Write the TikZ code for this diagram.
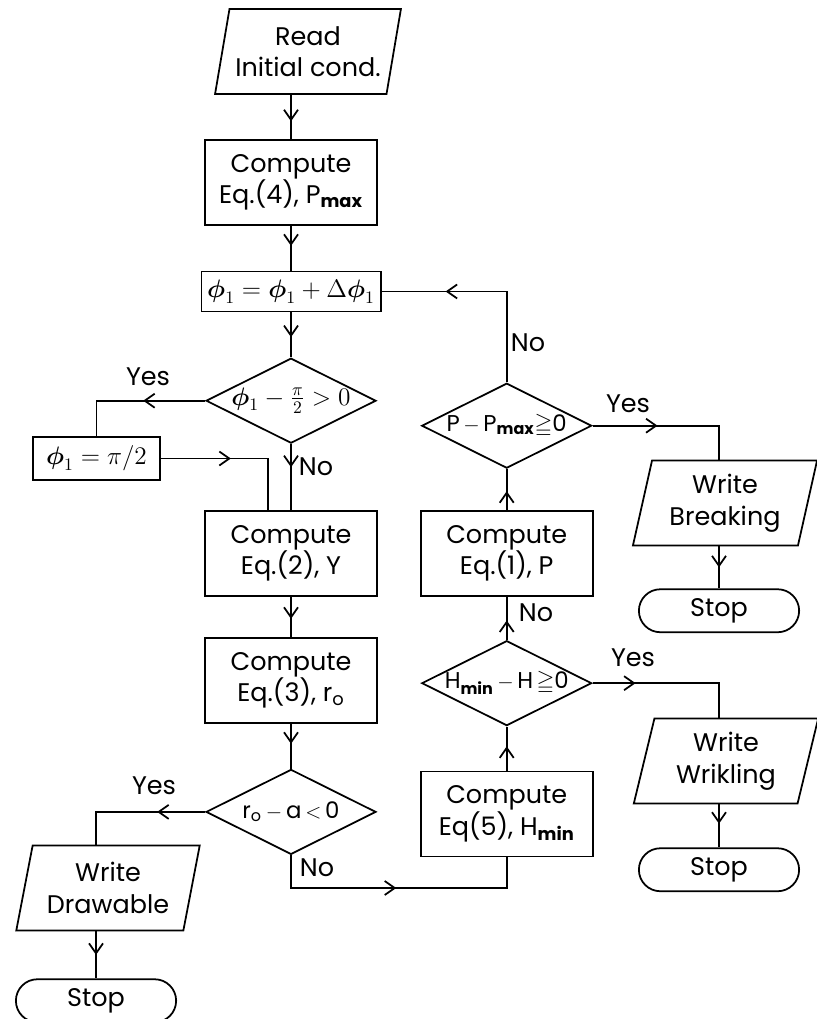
\documentclass[tikz,border=0pt]{standalone}
\usepackage{amsmath,amssymb}
\usepackage{fontspec}
\setmainfont{Poppins}
\usetikzlibrary{arrows.meta,positioning,shapes.geometric,shapes.misc,decorations.markings}

\tikzset{
  proc/.style={draw, line width=1pt, minimum width=3.44cm, minimum height=1.7cm, align=center},
  io/.style={draw, line width=1pt, trapezium, trapezium left angle=77, trapezium right angle=103,
    trapezium stretches=true, minimum width=3.7cm, minimum height=1.7cm, align=center},
  dec/.style={draw, line width=1pt, diamond, aspect=2, inner sep=-3pt, minimum width=3.4cm, minimum height=1.7cm,
    font=\fontsize{13}{16}\selectfont},
  term/.style={draw, line width=1pt, rounded rectangle, minimum width=3.44cm, minimum height=0.86cm},
  lbl/.style={inner sep=1pt},
  flow/.style={line width=1pt, postaction={decorate},
    decoration={markings, mark=at position #1 with {\arrow{Straight Barb[length=2mm,width=2.8mm]}}}},
  flow/.default=0.55
}

\begin{document}
\begin{tikzpicture}[x=0.02cm, y=-0.02cm, font=\fontsize{14.5}{18}\selectfont]
  \useasboundingbox (0,0) rectangle (817,1019);
  % main column
  \node[io] (read) at (308,51.5) {Read\\Initial cond.};
  \node[proc, below=0.88cm of read, xshift=-0.34cm] (eq4) {Compute\\Eq.(4), P\textsubscript{\textbf{max}}};
  \node[proc, minimum height=0.8cm, below=0.9cm of eq4] (phi) {$\boldsymbol{\phi}_1 = \boldsymbol{\phi}_1 + \Delta\boldsymbol{\phi}_1$};
  \node[dec, font=\fontsize{14.5}{18}\selectfont, below=0.9cm of phi] (lim) {$\boldsymbol{\phi}_1 - \tfrac{\pi}{2} > 0$};
  \node[proc, minimum width=2.54cm, minimum height=0.86cm] (half) at (96.5,458.5) {$\boldsymbol{\phi}_1 = \pi/2$};
  \node[proc, below=1.32cm of lim] (eq2) {Compute\\Eq.(2), Y};
  \node[proc, below=0.8cm of eq2] (eq3) {Compute\\Eq.(3), r\textsubscript{o}};
  \node[dec, below=0.9cm of eq3] (rtest) {r\textsubscript{o}\,$-$\,a\,$<$\,0};
  \node[io] (wdraw) at (108,888) {Write\\Drawable};
  \node[term, below=0.94cm of wdraw, xshift=-0.24cm] (stop1) {Stop};
  % right column
  \node[proc, right=0.84cm of eq2] (eq1) {Compute\\Eq.(1), P};
  \node[dec, above=0.82cm of eq1] (pmax) {P$\,-\,$P\textsubscript{\textbf{max}}$\geqq$0};
  \node[dec, below=0.86cm of eq1] (hmin) {H\textsubscript{\textbf{min}}$\,-\,$H$\,\geqq$0};
  \node[proc, below=0.88cm of hmin] (eq5) {Compute\\Eq(5), H\textsubscript{\textbf{min}}};
  \node[io] (wbreak) at (725,503) {Write\\Breaking};
  \node[term, below=0.84cm of wbreak, xshift=-0.12cm] (stop2) {Stop};
  \node[io] (wwrik) at (726,761) {Write\\Wrikling};
  \node[term, below=0.86cm of wwrik, xshift=-0.14cm] (stop3) {Stop};
  \coordinate (nojoin) at (0,888);

  % connectors
  \draw[flow=0.6] (eq4.north |- read.south) -- (eq4.north);
  \draw[flow=0.45] (eq4) -- (phi);
  \draw[flow=0.55] (phi) -- (lim);
  \draw[flow=0.35] (lim) -- (eq2);
  \draw[flow=1.24cm] (lim.west) -| (half.north);
  \draw[flow=1.4cm] (half.east) -| ([xshift=-0.46cm]eq2.north);
  \draw[flow=0.55] (eq2) -- (eq3);
  \draw[flow=0.45] (eq3) -- (rtest);
  \draw[flow=0.96cm] (rtest.west) -| ([xshift=-0.24cm]wdraw.north);
  \draw[flow=0.5] (stop1.north |- wdraw.south) -- (stop1.north);
  \draw[flow=2.76cm] (rtest.south) -- (rtest.south |- nojoin) -- (eq5.south |- nojoin) -- (eq5.south);
  \draw[flow=0.55] (eq5) -- (hmin);
  \draw[flow=0.86cm] (hmin.east) -| ([xshift=-0.14cm]wwrik.north);
  \draw[flow=0.45] (stop3.north |- wwrik.south) -- (stop3.north);
  \draw[flow=0.45] (hmin) -- (eq1);
  \draw[flow=0.46] (eq1) -- (pmax);
  \draw[flow=3.04cm] (pmax.north) |- (phi.east);
  \draw[flow=1.3cm] (pmax.east) -| ([xshift=-0.12cm]wbreak.north);
  \draw[flow=0.5] (stop2.north |- wbreak.south) -- (stop2.north);

  % labels
  \node[lbl] (yes1) at (148,377) {Yes};
  \node[lbl] (no1) at (316,467) {No};
  \node[lbl] (yes2) at (154,786) {Yes};
  \node[lbl] (no2) at (317,868) {No};
  \node[lbl] (yes3) at (633,658) {Yes};
  \node[lbl] (no3) at (536,613) {No};
  \node[lbl] (yes4) at (628,404) {Yes};
  \node[lbl] (no4) at (528,343) {No};
\end{tikzpicture}
\end{document}
